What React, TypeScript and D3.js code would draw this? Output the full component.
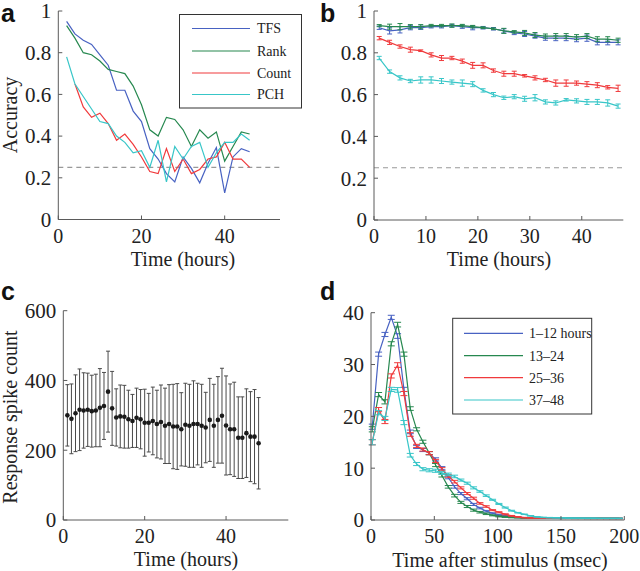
import React from "react";
import * as d3 from "d3";

// ---- palette ----
const BLUE = "#4862c2";
const GREEN = "#26884f";
const RED = "#f03a3c";
const CYAN = "#38c6c8";
const AXIS = "#5a5a5a";
const TEXT = "#222";
const SERIF = "'Liberation Serif', 'Times New Roman', serif";
const SANS = "'Liberation Sans', Arial, sans-serif";

// ---- panel a: single-day accuracy ----
const aHours = [2, 4, 6, 8, 10, 12, 14, 16, 18, 20, 22, 24, 26, 28, 30, 32, 34, 36, 38, 40, 42, 44, 46];
const aTFS = [0.95, 0.89, 0.86, 0.84, 0.79, 0.74, 0.62, 0.62, 0.52, 0.47, 0.34, 0.29, 0.22, 0.18, 0.3, 0.245, 0.176, 0.27, 0.345, 0.128, 0.3, 0.34, 0.325];
const aRank = [0.93, 0.87, 0.8, 0.79, 0.76, 0.72, 0.71, 0.7, 0.64, 0.55, 0.43, 0.4, 0.49, 0.48, 0.43, 0.35, 0.43, 0.39, 0.42, 0.28, 0.35, 0.42, 0.41];
const aCount = [null, 0.65, 0.54, 0.49, 0.51, 0.46, 0.38, 0.41, 0.36, 0.3, 0.23, 0.22, 0.34, 0.23, 0.29, 0.22, 0.24, 0.29, 0.3, 0.37, 0.29, 0.29, 0.25];
const aPCH = [0.78, 0.65, 0.59, 0.53, 0.47, 0.46, 0.4, 0.37, 0.32, 0.33, 0.25, 0.38, 0.18, 0.35, 0.29, 0.35, 0.37, 0.25, 0.32, 0.37, 0.37, 0.41, 0.38];
const aLegend = ["TFS", "Rank", "Count", "PCH"];

// ---- panel b: accuracy with error bars ----
const bHours = [1, 3, 5, 7, 9, 11, 13, 15, 17, 19, 21, 23, 25, 27, 29, 31, 33, 35, 37, 39, 41, 43, 45, 47];
const bTFS = [0.92, 0.905, 0.91, 0.92, 0.92, 0.925, 0.925, 0.93, 0.925, 0.92, 0.92, 0.915, 0.905, 0.895, 0.89, 0.88, 0.87, 0.87, 0.87, 0.865, 0.87, 0.85, 0.85, 0.85];
const bTFSErr = [0.008, 0.015, 0.015, 0.01, 0.008, 0.006, 0.006, 0.006, 0.008, 0.01, 0.006, 0.006, 0.01, 0.008, 0.012, 0.01, 0.01, 0.012, 0.012, 0.012, 0.015, 0.012, 0.012, 0.012];
const bRank = [0.93, 0.925, 0.925, 0.925, 0.925, 0.93, 0.93, 0.93, 0.93, 0.925, 0.92, 0.915, 0.905, 0.9, 0.895, 0.885, 0.88, 0.88, 0.88, 0.875, 0.88, 0.865, 0.865, 0.86];
const bRankErr = [0.005, 0.012, 0.015, 0.01, 0.01, 0.006, 0.006, 0.008, 0.006, 0.006, 0.004, 0.004, 0.012, 0.006, 0.012, 0.012, 0.01, 0.012, 0.012, 0.012, 0.012, 0.012, 0.012, 0.01];
const bCount = [0.87, 0.85, 0.83, 0.815, 0.81, 0.79, 0.775, 0.775, 0.76, 0.74, 0.74, 0.715, 0.7, 0.7, 0.69, 0.68, 0.67, 0.655, 0.655, 0.655, 0.65, 0.645, 0.635, 0.63];
const bCountErr = [0.008, 0.01, 0.008, 0.012, 0.004, 0.01, 0.012, 0.008, 0.01, 0.014, 0.012, 0.008, 0.012, 0.012, 0.006, 0.01, 0.008, 0.015, 0.015, 0.01, 0.012, 0.012, 0.008, 0.015];
const bPCH = [0.775, 0.71, 0.68, 0.665, 0.67, 0.67, 0.665, 0.66, 0.655, 0.65, 0.62, 0.6, 0.585, 0.59, 0.58, 0.585, 0.565, 0.56, 0.575, 0.57, 0.565, 0.565, 0.56, 0.545];
const bPCHErr = [0.008, 0.008, 0.01, 0.008, 0.015, 0.015, 0.012, 0.01, 0.015, 0.012, 0.008, 0.01, 0.008, 0.01, 0.012, 0.015, 0.01, 0.01, 0.006, 0.01, 0.012, 0.012, 0.015, 0.01];

// ---- panel c: response spike count ----
const cHours = d3.range(1, 49);
const cMean = [300, 290, 306, 316, 314, 316, 312, 314, 322, 327, 368, 320, 294, 297, 296, 289, 284, 293, 289, 279, 279, 284, 275, 281, 270, 275, 268, 268, 260, 273, 270, 275, 275, 270, 265, 287, 270, 287, 299, 271, 260, 260, 236, 236, 249, 239, 239, 220];
const cErr = [88, 100, 110, 117, 108, 105, 103, 104, 112, 96, 116, 106, 82, 90, 90, 83, 76, 85, 85, 96, 84, 97, 97, 106, 108, 113, 121, 123, 105, 119, 119, 124, 117, 119, 101, 119, 119, 124, 136, 142, 130, 135, 117, 117, 127, 129, 135, 131];

// ---- panel d: PSTH by time window ----
const dMsec = d3.range(1, 200, 5);
const dEarly = [18.0, 32.0, 35.8, 39.1, 35.5, 25.2, 17.0, 14.1, 13.5, 12.9, 11.7, 10.0, 8.2, 6.4, 5.1, 4.1, 3.0, 2.3, 1.7, 1.3, 1.0, 0.8, 0.6, 0.5, 0.45, 0.42, 0.4, 0.38, 0.37, 0.36, 0.35, 0.35, 0.34, 0.34, 0.33, 0.33, 0.33, 0.32, 0.32, 0.32];
const dMid1 = [17.5, 24.2, 22.8, 34.0, 37.7, 32.0, 21.5, 17.5, 15.1, 12.9, 10.6, 8.6, 6.4, 4.7, 3.4, 2.6, 1.9, 1.5, 1.2, 0.9, 0.7, 0.6, 0.5, 0.45, 0.4, 0.38, 0.36, 0.35, 0.34, 0.33, 0.32, 0.32, 0.31, 0.31, 0.3, 0.3, 0.3, 0.3, 0.3, 0.3];
const dMid2 = [15.0, 21.3, 19.0, 27.8, 29.9, 24.4, 16.5, 14.3, 13.6, 12.9, 11.4, 9.8, 8.5, 7.4, 6.2, 5.1, 4.2, 3.2, 2.6, 1.9, 1.5, 1.1, 0.8, 0.6, 0.45, 0.4, 0.38, 0.36, 0.35, 0.34, 0.33, 0.33, 0.32, 0.32, 0.32, 0.31, 0.31, 0.31, 0.3, 0.3];
const dLate = [15.0, 20.7, 19.6, 25.2, 25.1, 18.8, 12.5, 10.8, 9.8, 9.6, 9.5, 9.1, 8.8, 8.4, 7.7, 7.1, 6.2, 5.5, 4.7, 3.9, 3.1, 2.4, 1.8, 1.4, 1.1, 0.8, 0.6, 0.5, 0.45, 0.42, 0.4, 0.38, 0.37, 0.36, 0.35, 0.35, 0.34, 0.34, 0.33, 0.33];
const dErr = [0.5, 0.4, 0.4, 0.4, 0.45, 0.4, 0.35, 0.3, 0.3, 0.3, 0.3, 0.3, 0.25, 0.25, 0.2, 0.2, 0.2, 0.15, 0.15, 0.1, 0.1, 0.1, 0.08, 0.06, 0.05, 0.05, 0.05, 0.05, 0.05, 0.05, 0.05, 0.05, 0.05, 0.05, 0.05, 0.05, 0.05, 0.05, 0.05, 0.05];
const dLegend = ["1\u201312 hours", "13\u201324", "25\u201336", "37\u201348"];

const COLORS = [BLUE, GREEN, RED, CYAN];

function Axes({ x, y, xTicks, yTicks, yFmt }) {
  const [x0, x1] = x.range();
  const [y0, y1] = y.range();
  return (
    <g>
      <line x1={x0} x2={x0} y1={y0} y2={y1} stroke={AXIS} strokeWidth={1} />
      <line x1={x0} x2={x1} y1={y0} y2={y0} stroke={AXIS} strokeWidth={1} />
      {yTicks.map((t) => (
        <g key={"y" + t}>
          <line x1={x0} x2={x0 + 4} y1={y(t)} y2={y(t)} stroke={AXIS} />
          <text x={x0 - 7} y={y(t)} dy="0.35em" textAnchor="end" fontFamily={SERIF} fontSize={21} fill={TEXT}>
            {yFmt ? yFmt(t) : t}
          </text>
        </g>
      ))}
      {xTicks.map((t) => (
        <g key={"x" + t}>
          <line x1={x(t)} x2={x(t)} y1={y0} y2={y0 - 4} stroke={AXIS} />
          <text x={x(t)} y={y0 + 23} textAnchor="middle" fontFamily={SERIF} fontSize={20} fill={TEXT}>
            {t}
          </text>
        </g>
      ))}
    </g>
  );
}

function ErrorBars({ xs, vs, es, x, y, color, cap }) {
  return (
    <g stroke={color} strokeWidth={1}>
      {xs.map((t, i) => {
        const cx = x(t);
        const lo = y(vs[i] - es[i]);
        const hi = y(vs[i] + es[i]);
        return (
          <g key={i}>
            <line x1={cx} x2={cx} y1={lo} y2={hi} />
            <line x1={cx - cap} x2={cx + cap} y1={lo} y2={lo} />
            <line x1={cx - cap} x2={cx + cap} y1={hi} y2={hi} />
          </g>
        );
      })}
    </g>
  );
}

function Legend({ box, labels, lineX, textX, rows }) {
  return (
    <g>
      <rect x={box[0]} y={box[1]} width={box[2]} height={box[3]} fill="white" stroke="#333" strokeWidth={1} />
      {labels.map((l, i) => (
        <g key={l}>
          <line x1={lineX[0]} x2={lineX[1]} y1={rows[i]} y2={rows[i]} stroke={COLORS[i]} strokeWidth={1.2} />
          <text x={textX} y={rows[i]} dy="0.35em" fontFamily={SERIF} fontSize={14} fill={TEXT}>
            {l}
          </text>
        </g>
      ))}
    </g>
  );
}

const fmt1 = (t) => (t === 0 || t === 1 ? String(t) : d3.format(".1f")(t));

function PanelA() {
  const x = d3.scaleLinear().domain([0, 53.3]).range([58.3, 280]);
  const y = d3.scaleLinear().domain([0, 1]).range([219.5, 11]);
  const line = d3
    .line()
    .defined((d) => d[1] != null)
    .x((d) => x(d[0]))
    .y((d) => y(d[1]));
  const series = [aTFS, aRank, aCount, aPCH];
  return (
    <g>
      <line x1={x(0)} x2={x(53.3)} y1={y(0.25)} y2={y(0.25)} stroke="#999" strokeWidth={1.2} strokeDasharray="5,4" />
      {series.map((s, i) => (
        <path key={i} d={line(aHours.map((h, j) => [h, s[j]]))} fill="none" stroke={COLORS[i]} strokeWidth={1.2} />
      ))}
      <Axes x={x} y={y} xTicks={[0, 20, 40]} yTicks={[0, 0.2, 0.4, 0.6, 0.8, 1]} yFmt={fmt1} />
      <Legend box={[179.5, 14.5, 122, 93.5]} labels={aLegend} lineX={[192, 250]} textX={257} rows={[28.5, 51, 73, 94.5]} />
      <text transform="translate(17,115) rotate(-90)" textAnchor="middle" fontFamily={SERIF} fontSize={20} fill={TEXT}>
        Accuracy
      </text>
      <text x={183} y={265.5} textAnchor="middle" fontFamily={SERIF} fontSize={20} fill={TEXT}>
        Time (hours)
      </text>
      <text x={1} y={22} fontFamily={SANS} fontWeight="bold" fontSize={25} fill="#111">a</text>
    </g>
  );
}

function PanelB() {
  const x = d3.scaleLinear().domain([0, 48]).range([374, 623.3]);
  const y = d3.scaleLinear().domain([0, 1]).range([220, 11]);
  const line = d3
    .line()
    .x((d) => x(d[0]))
    .y((d) => y(d[1]));
  const series = [
    [bTFS, bTFSErr],
    [bRank, bRankErr],
    [bCount, bCountErr],
    [bPCH, bPCHErr],
  ];
  return (
    <g>
      <line x1={x(0)} x2={x(48)} y1={y(0.25)} y2={y(0.25)} stroke="#999" strokeWidth={1.2} strokeDasharray="5,4" />
      {series.map(([v, e], i) => (
        <g key={i}>
          <path d={line(bHours.map((h, j) => [h, v[j]]))} fill="none" stroke={COLORS[i]} strokeWidth={1.2} />
          <ErrorBars xs={bHours} vs={v} es={e} x={x} y={y} color={COLORS[i]} cap={2.5} />
        </g>
      ))}
      <Axes x={x} y={y} xTicks={[0, 10, 20, 30, 40]} yTicks={[0, 0.2, 0.4, 0.6, 0.8, 1]} yFmt={fmt1} />
      <text x={499} y={266} textAnchor="middle" fontFamily={SERIF} fontSize={20} fill={TEXT}>
        Time (hours)
      </text>
      <text x={320} y={22} fontFamily={SANS} fontWeight="bold" fontSize={25} fill="#111">b</text>
    </g>
  );
}

function PanelC() {
  const x = d3.scaleLinear().domain([0, 55.3]).range([63.3, 288.3]);
  const y = d3.scaleLinear().domain([0, 600]).range([520, 310.7]);
  return (
    <g>
      <ErrorBars xs={cHours} vs={cMean} es={cErr} x={x} y={y} color="#4a4a4a" cap={2} />
      {cHours.map((h, i) => (
        <circle key={i} cx={x(h)} cy={y(cMean[i])} r={2.3} fill="#1a1a1a" />
      ))}
      <Axes x={x} y={y} xTicks={[0, 20, 40]} yTicks={[0, 200, 400, 600]} />
      <text transform="translate(16.5,417) rotate(-90)" textAnchor="middle" fontFamily={SERIF} fontSize={20} fill={TEXT}>
        Response spike count
      </text>
      <text x={186} y={566} textAnchor="middle" fontFamily={SERIF} fontSize={20} fill={TEXT}>
        Time (hours)
      </text>
      <text x={1} y={300} fontFamily={SANS} fontWeight="bold" fontSize={25} fill="#111">c</text>
    </g>
  );
}

function PanelD() {
  const x = d3.scaleLinear().domain([0, 200]).range([371, 624.3]);
  const y = d3.scaleLinear().domain([0, 40]).range([520, 312.7]);
  const line = d3
    .line()
    .x((d) => x(d[0]))
    .y((d) => y(d[1]));
  const series = [dEarly, dMid1, dMid2, dLate];
  return (
    <g>
      {series.map((v, i) => (
        <g key={i}>
          <path d={line(dMsec.map((t, j) => [t, v[j]]))} fill="none" stroke={COLORS[i]} strokeWidth={1.2} />
          <ErrorBars xs={dMsec} vs={v} es={dErr} x={x} y={y} color={COLORS[i]} cap={3.5} />
        </g>
      ))}
      <Axes x={x} y={y} xTicks={[0, 50, 100, 150, 200]} yTicks={[0, 10, 20, 30, 40]} />
      <Legend box={[452.7, 318.3, 139, 95.7]} labels={dLegend} lineX={[464, 523]} textX={529} rows={[333.3, 355.7, 377.7, 400]} />
      <text x={500} y={566.5} textAnchor="middle" fontFamily={SERIF} fontSize={20} fill={TEXT}>
        Time after stimulus (msec)
      </text>
      <text x={320} y={300} fontFamily={SANS} fontWeight="bold" fontSize={25} fill="#111">d</text>
    </g>
  );
}

export default function App() {
  return (
    <svg
      width={640}
      height={571}
      style={{ position: "absolute", left: 0, top: 0, background: "white" }}
    >
      <PanelA />
      <PanelB />
      <PanelC />
      <PanelD />
    </svg>
  );
}
